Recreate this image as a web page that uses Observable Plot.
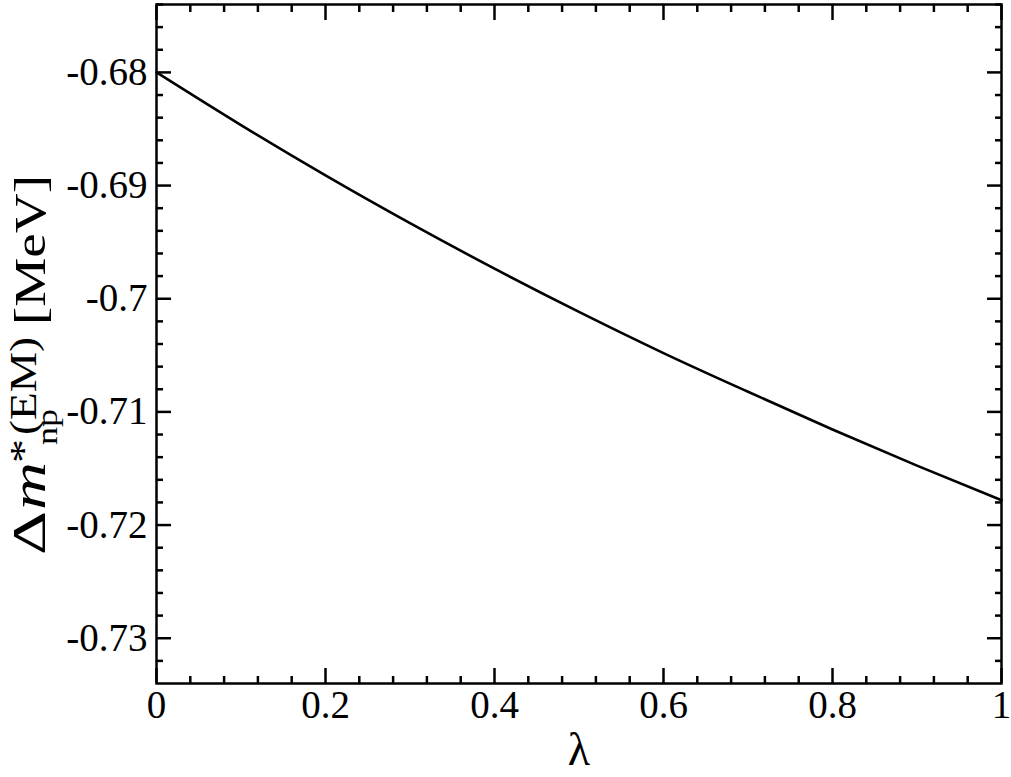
<!DOCTYPE html>
<html>
<head>
<meta charset="utf-8">
<script src="https://cdn.jsdelivr.net/npm/d3@7"></script>
<script src="https://cdn.jsdelivr.net/npm/@observablehq/plot@0.6"></script>
<style>
  html, body { margin: 0; padding: 0; background: #fff; }
  #chart svg { display: block; }
</style>
</head>
<body>
<div id="chart"></div>
<script>
// Data
const lambda = [0, 0.1, 0.2, 0.3, 0.4, 0.5, 0.6, 0.7, 0.8, 0.9, 1.0];
const deltaM = [-0.68000, -0.68466, -0.68910, -0.69332, -0.69734, -0.70116, -0.70480, -0.70822, -0.71155, -0.71475, -0.71780];

// Axis ticks
const xTicks = [0, 0.2, 0.4, 0.6, 0.8, 1];
const yTicks = [-0.73, -0.72, -0.71, -0.70, -0.69, -0.68];
const xMinor = d3.range(1, 25).map(i => +(i * 0.04).toFixed(2)).filter(v => !xTicks.some(t => Math.abs(t - v) < 1e-9));
const yMinor = d3.range(0, 30).map(i => +(-0.732 + i * 0.002).toFixed(3)).filter(v => !yTicks.some(t => Math.abs(t - v) < 1e-9));

const xLabel = "λ";

const data = lambda.map((x, i) => ({x, y: deltaM[i]}));
const fmt = d => String(d);
const blank = () => "";
const serif = "'Liberation Serif', 'Times New Roman', serif";

const plot = Plot.plot({
  width: 1011,
  height: 777,
  marginLeft: 156,
  marginRight: 10,
  marginTop: 4,
  marginBottom: 94,
  style: {fontFamily: serif, fontSize: "39px", background: "#fff", color: "#000"},
  x: {domain: [0, 1]},
  y: {domain: [-0.734, -0.674]},
  marks: [
    Plot.line(data, {x: "x", y: "y", curve: "monotone-x", stroke: "#000", strokeWidth: 2.6}),
    // bottom axis
    Plot.axisX({anchor: "bottom", ticks: xTicks, tickSize: -15, tickPadding: 22, tickFormat: fmt, strokeWidth: 2.5, label: null}),
    Plot.axisX({anchor: "bottom", ticks: xMinor, tickSize: -7, tickFormat: blank, strokeWidth: 2.5, label: null}),
    // top axis
    Plot.axisX({anchor: "top", ticks: xTicks, tickSize: -15, tickFormat: blank, strokeWidth: 2.5, label: null}),
    Plot.axisX({anchor: "top", ticks: xMinor, tickSize: -7, tickFormat: blank, strokeWidth: 2.5, label: null}),
    // left axis
    Plot.axisY({anchor: "left", ticks: yTicks, tickSize: -15, tickPadding: 24, tickFormat: fmt, strokeWidth: 2.5, label: null}),
    Plot.axisY({anchor: "left", ticks: yMinor, tickSize: -7, tickFormat: blank, strokeWidth: 2.5, label: null}),
    // right axis
    Plot.axisY({anchor: "right", ticks: yTicks, tickSize: -15, tickFormat: blank, strokeWidth: 2.5, label: null}),
    Plot.axisY({anchor: "right", ticks: yMinor, tickSize: -7, tickFormat: blank, strokeWidth: 2.5, label: null}),
    Plot.frame({stroke: "#000", strokeWidth: 2.5}),
    Plot.text([xLabel], {frameAnchor: "bottom", text: d => d, dy: 67, fontSize: 46, lineAnchor: "middle"})
  ]
});

document.getElementById("chart").appendChild(plot);

// Y axis label with sub/superscripts, rotated to read upwards
const svg = d3.select(plot);
const g = svg.append("g")
  .attr("transform", "translate(45,555) rotate(-90)")
  .attr("font-family", serif)
  .attr("text-anchor", "start")
  .attr("fill", "#000");
const piece = (txt, x, y, size, len, italic) => g.append("text")
  .attr("x", x).attr("y", y)
  .attr("font-size", size)
  .attr("font-style", italic ? "italic" : null)
  .attr("text-anchor", "start")
  .attr("textLength", len)
  .attr("lengthAdjust", "spacingAndGlyphs")
  .text(txt);
piece("Δ", 0, 0, 47, 44);
piece("m", 45, 0, 48, 48, true);
piece("*", 92, -9, 37, 24);
piece("(EM)", 120, -9, 37, 98);
piece("np", 110, 12, 30, 36);
piece("[MeV]", 230, 0, 44, 150);
</script>
</body>
</html>
